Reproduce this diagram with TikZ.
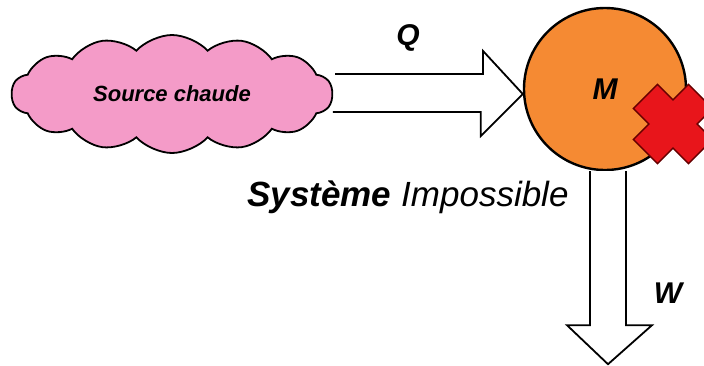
\documentclass[tikz,border=0pt]{standalone}
\usepackage{fontspec}
\setmainfont{Liberation Sans}
\usetikzlibrary{shapes.symbols,calc,positioning}
\definecolor{cloudpink}{HTML}{F49BC8}
\definecolor{motororange}{HTML}{F58A33}
\definecolor{crossred}{HTML}{E8151B}
\tikzset{
    source/.style={draw, cloud, cloud puffs=14, cloud puff arc=95, aspect=2.7,
        minimum width=321pt, minimum height=118pt, inner sep=0pt,
        fill=cloudpink, line width=1.8pt,
        font=\bfseries\itshape\fontsize{22}{22}\selectfont},
    machine/.style={draw, circle, minimum size=162pt, inner sep=0pt,
        fill=motororange, line width=2.4pt},
    heatflow/.style={draw, line width=1.8pt, line join=miter, fill=white},
    lbl/.style={font=\bfseries\itshape\fontsize{30}{30}\selectfont, inner sep=0pt},
    crossmark/.style={fill=crossred, draw=black!60!red, line width=1.4pt, line join=miter}
}
\begin{document}
\begin{tikzpicture}[x=1pt, y=-1pt]
    \useasboundingbox (0,0) rectangle (704,365);
    \node[source] (src) at (172,94) {Source chaude};
    \node[machine] (M) at (605,89) {};
    \node[lbl] (Mlabel) at (M.center) {M};
    \node[lbl] (Q) at (408,38) {Q};
    \node[lbl] (W) at (668,293) {W};
    \node[font=\itshape\fontsize{35}{35}\selectfont, inner sep=0pt] (sys) at (408,197)
        {\textbf{Système} Impossible};
    % chaleur recue
    \draw[heatflow] ($(src.east)+(2,-20)$) -- ++(148,0) -- ++(0,-23)
        -- (M.west |- src.east) -- ++(-42,42) -- ++(0,-24) -- ++(-148,0);
    % travail fourni
    \draw[heatflow] ($(M.south)+(-15,0)$) -- ++(0,154) -- ++(-23,0) -- ++(41,39)
        -- ++(44,-39) -- ++(-26,0) -- ++(0,-154);
    % croix
    \coordinate (X) at (673,124);
    \draw[crossmark, shift={(X)}, rotate=45] (-17,-39) -- (17,-39) -- (17,-17) -- (39,-17)
        -- (39,17) -- (17,17) -- (17,39) -- (-17,39) -- (-17,17) -- (-39,17)
        -- (-39,-17) -- (-17,-17) -- cycle;
\end{tikzpicture}
\end{document}
